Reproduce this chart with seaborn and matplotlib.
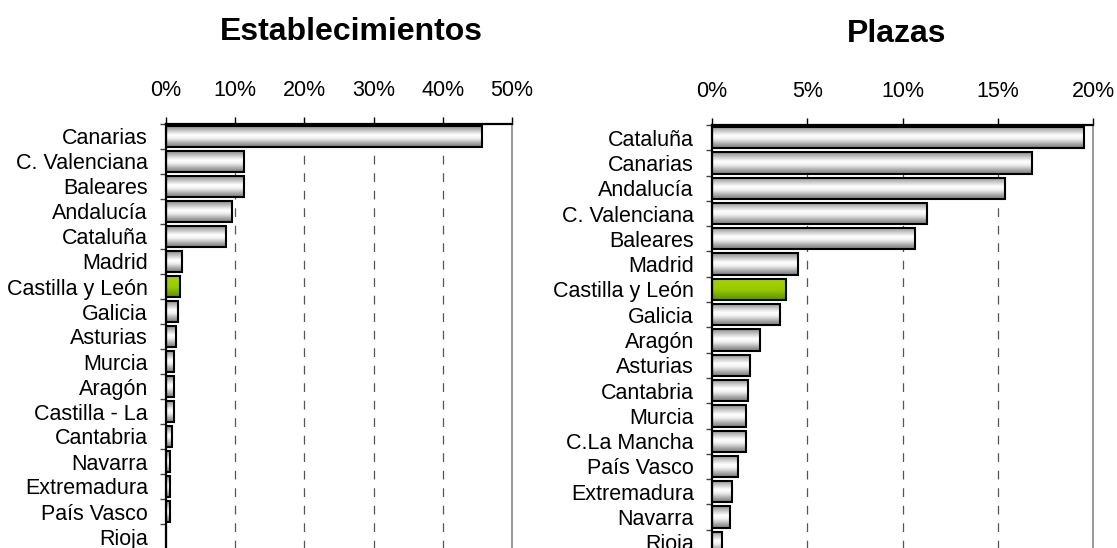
import numpy as np
import pandas as pd
import matplotlib
matplotlib.use("Agg")
import matplotlib.pyplot as plt
from matplotlib.colors import LinearSegmentedColormap
import seaborn as sns

# ---------------- data ----------------
est_regions = ["Canarias", "C. Valenciana", "Baleares", "Andalucía", "Cataluña",
               "Madrid", "Castilla y León", "Galicia", "Asturias", "Murcia",
               "Aragón", "Castilla - La", "Cantabria", "Navarra", "Extremadura",
               "País Vasco", "Rioja"]
est_values = [45.6, 11.3, 11.3, 9.5, 8.7, 2.3, 2.0, 1.7, 1.5, 1.2, 1.2, 1.2,
              0.9, 0.6, 0.6, 0.6, 0.05]

pla_regions = ["Cataluña", "Canarias", "Andalucía", "C. Valenciana", "Baleares",
               "Madrid", "Castilla y León", "Galicia", "Aragón", "Asturias",
               "Cantabria", "Murcia", "C.La Mancha", "País Vasco", "Extremadura",
               "Navarra", "Rioja"]
pla_values = [19.55, 16.8, 15.4, 11.3, 10.65, 4.5, 3.9, 3.55, 2.5, 2.0, 1.9,
              1.77, 1.77, 1.35, 1.05, 0.93, 0.5]

highlight = "Castilla y León"
est_ticks = [0, 10, 20, 30, 40, 50]
pla_ticks = [0, 5, 10, 15, 20]
titles = ["Establecimientos", "Plazas"]

# ---------------- style ----------------
sns.set_theme(style="white")
plt.rcParams["font.family"] = ["Liberation Sans", "DejaVu Sans"]

W, H = 1117, 548
fig = plt.figure(figsize=(W / 100, H / 100), dpi=100)

def px_axes(x0, x1, ytop, ybot):
    return fig.add_axes([x0 / W, (H - ybot) / H, (x1 - x0) / W, (ybot - ytop) / H])

ax1 = px_axes(166, 512, 124, 549)
ax2 = px_axes(712, 1093, 125, 555)

gray_cmap = LinearSegmentedColormap.from_list(
    "g", [(0, "#8c8c8c"), (0.15, "#b5b5b5"), (0.42, "#ffffff"),
          (0.58, "#f2f2f2"), (0.85, "#a0a0a0"), (1, "#7a7a7a")])
green_cmap = LinearSegmentedColormap.from_list(
    "gr", [(0, "#a3d200"), (0.5, "#99cc00"), (1, "#5f8f00")])
grad = np.linspace(0, 1, 64).reshape(-1, 1)


def draw(ax, regions, values, ticks, title, title_xy):
    df = pd.DataFrame({"region": regions, "value": values})
    pal = {r: ("#99cc00" if r == highlight else "#dddddd") for r in regions}
    sns.barplot(data=df, x="value", y="region", hue="region", palette=pal,
                legend=False, orient="h", width=0.84, ax=ax,
                edgecolor="black", linewidth=1.5, zorder=3)
    xmax = ticks[-1]
    # gradient fill clipped to each bar
    for patch, reg in zip(ax.patches, regions):
        x0, y0 = patch.get_x(), patch.get_y()
        w, h = patch.get_width(), patch.get_height()
        cmap = green_cmap if reg == highlight else gray_cmap
        im = ax.imshow(grad, extent=[x0, x0 + max(w, 1e-6), y0 + h, y0],
                       aspect="auto", cmap=cmap, vmin=0, vmax=1,
                       zorder=2.5, interpolation="bilinear")
        im.set_clip_path(patch)
        patch.set_facecolor("none")
    ax.set_xlim(0, xmax)
    ax.set_ylim(len(regions) - 0.5, -0.5)
    ax.set_xlabel("")
    ax.set_ylabel("")

    # x axis on top
    ax.xaxis.tick_top()
    ax.set_xticks(ticks)
    ax.set_xticklabels([f"{t}%" for t in ticks])
    ax.tick_params(axis="x", top=True, bottom=False, direction="out",
                   length=5, width=1, color="black", pad=11.5, labelsize=15.5,
                   labelcolor="black")
    # category separators as minor ticks
    ax.set_yticks(np.arange(len(regions)))
    ax.set_yticks(np.arange(len(regions)) - 0.5, minor=True)
    ax.tick_params(axis="y", which="major", left=False, length=0, pad=13,
                   labelsize=15.5, labelcolor="black")
    ax.tick_params(axis="y", which="minor", left=True, direction="out",
                   length=4.5, width=1, color="#444444")

    # grid
    for t in ticks[1:-1]:
        ax.axvline(t, color="#555555", lw=0.9, ls=(0, (7, 7)), zorder=1)

    for s in ["top", "left"]:
        ax.spines[s].set_color("black")
        ax.spines[s].set_linewidth(1.6)
    ax.spines["right"].set_color("#999999")
    ax.spines["right"].set_linewidth(1.4)
    ax.spines["bottom"].set_color("#999999")
    ax.spines["bottom"].set_linewidth(1.4)
    for s in ax.spines.values():
        s.set_visible(True)
        s.set_zorder(4)

    fig.text(title_xy[0] / W, 1 - title_xy[1] / H, title, ha="center",
             va="baseline", fontsize=23, fontweight="bold", color="black")


draw(ax1, est_regions, est_values, est_ticks, titles[0], (351, 40.5))
draw(ax2, pla_regions, pla_values, pla_ticks, titles[1], (897, 42.3))

fig.savefig("out.png", dpi=100, facecolor="white")
